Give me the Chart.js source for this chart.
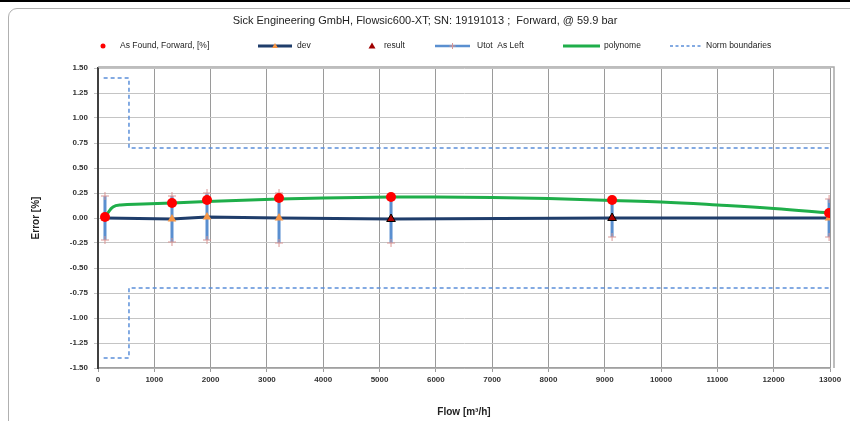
<!DOCTYPE html>
<html>
<head>
<meta charset="utf-8">
<script src="https://cdn.jsdelivr.net/npm/chart.js@4.4.1/dist/chart.umd.min.js"></script>
<style>
  body { margin: 0; background: #fff; }
  #wrap { position: relative; width: 850px; height: 421px; overflow: hidden; }
  #topbar { position: absolute; left: 0; top: 0; width: 850px; height: 2px; background: #000; }
  #frame { position: absolute; left: 8px; top: 8px; width: 860px; height: 440px;
           border: 1.5px solid #b0b0b0; border-radius: 9px; box-sizing: border-box; }
  canvas { position: absolute; left: 0; top: 0; }
</style>
</head>
<body>
<div id="wrap">
  <div id="topbar"></div>
  <div id="frame"></div>
  <canvas id="chart" width="850" height="421"></canvas>
</div>
<script>
// measured flow points
const flows = [124, 1314, 1936, 3215, 5204, 9130, 12984];
const asFound = [0.01, 0.15, 0.18, 0.20, 0.21, 0.18, 0.05];
const dev = [0.00, -0.01, 0.01, 0.00, -0.01, 0.00, 0.00];
const utotUp = [0.22, 0.22, 0.25, 0.25, 0.21, 0.18, 0.19];
const utotLow = [-0.22, -0.24, -0.22, -0.25, -0.25, -0.19, -0.19];

// result markers only at two points
const resultFlows = [5204, 9130];
const resultVals = [-0.01, 0.00];

// polynome curve
const polyFlows = [160, 266, 400, 800, 1314, 1936, 3215, 4000, 5204, 6000, 7000, 8000, 9130, 10000, 11000, 12000, 12984];
const polyVals = [0.04, 0.11, 0.13, 0.14, 0.15, 0.165, 0.19, 0.20, 0.21, 0.21, 0.205, 0.195, 0.175, 0.16, 0.13, 0.095, 0.05];

// norm boundaries
const normFlows = [100, 550, 550, 13000];
const normUpper = [1.40, 1.40, 0.70, 0.70];
const normLower = [-1.40, -1.40, -0.70, -0.70];

const legendLabels = ['As Found, Forward, [%]', 'dev', 'result', 'Utot  As Left', 'polynome', 'Norm boundaries'];
const titleText = 'Sick Engineering GmbH, Flowsic600-XT; SN: 19191013 ;  Forward, @ 59.9 bar';

const toXY = (xs, ys) => xs.map((x, i) => ({ x: x, y: ys[i] }));

// error bars: pairs of points split by a gap
const utotData = [];
flows.forEach((f, i) => {
  utotData.push({ x: f, y: utotUp[i] });
  utotData.push({ x: f, y: utotLow[i] });
  utotData.push({ x: f, y: null });
});

const FONT = 'Liberation Sans, Arial, sans-serif';

const decor = {
  id: 'decor',
  beforeDatasetsDraw(chart) {
    const { ctx, chartArea: a } = chart;
    ctx.save();
    ctx.strokeStyle = '#a8a8a8';
    ctx.lineWidth = 1.5;
    ctx.beginPath();
    ctx.moveTo(a.left, a.top - 1);
    ctx.lineTo(a.right + 4, a.top - 1);
    ctx.lineTo(a.right + 4, a.bottom);
    ctx.stroke();
    ctx.restore();
  },
  afterDraw(chart) {
    const ctx = chart.ctx;
    ctx.save();
    // title
    ctx.fillStyle = '#222';
    ctx.font = '11px ' + FONT;
    ctx.textAlign = 'center';
    ctx.textBaseline = 'middle';
    ctx.fillText(titleText, 425, 21);

    // legend
    const y = 46;
    ctx.font = '8.5px ' + FONT;
    ctx.textAlign = 'left';
    const ds = chart.data.datasets;
    // As Found
    ctx.fillStyle = '#ff0000';
    ctx.beginPath(); ctx.arc(103, y, 2.5, 0, Math.PI * 2); ctx.fill();
    ctx.fillStyle = '#222'; ctx.fillText(legendLabels[0], 120, y);
    // dev
    ctx.strokeStyle = ds[2].borderColor; ctx.lineWidth = 3;
    ctx.beginPath(); ctx.moveTo(258, y); ctx.lineTo(292, y); ctx.stroke();
    ctx.fillStyle = '#f79646';
    ctx.beginPath(); ctx.moveTo(275, y - 3); ctx.lineTo(278, y + 2); ctx.lineTo(272, y + 2); ctx.closePath(); ctx.fill();
    ctx.fillStyle = '#222'; ctx.fillText(legendLabels[1], 297, y);
    // result
    ctx.fillStyle = '#a00000';
    ctx.beginPath(); ctx.moveTo(372, y - 3.5); ctx.lineTo(375.5, y + 2.5); ctx.lineTo(368.5, y + 2.5); ctx.closePath(); ctx.fill();
    ctx.fillStyle = '#222'; ctx.fillText(legendLabels[2], 384, y);
    // Utot
    ctx.strokeStyle = ds[3].borderColor; ctx.lineWidth = 2.5;
    ctx.beginPath(); ctx.moveTo(435, y); ctx.lineTo(470, y); ctx.stroke();
    ctx.strokeStyle = '#d99694'; ctx.lineWidth = 1;
    ctx.beginPath(); ctx.moveTo(452.5, y - 3); ctx.lineTo(452.5, y + 3); ctx.moveTo(449.5, y); ctx.lineTo(455.5, y); ctx.stroke();
    ctx.fillStyle = '#222'; ctx.fillText(legendLabels[3], 477, y);
    // polynome
    ctx.strokeStyle = ds[4].borderColor; ctx.lineWidth = 3;
    ctx.beginPath(); ctx.moveTo(563, y); ctx.lineTo(600, y); ctx.stroke();
    ctx.fillStyle = '#222'; ctx.fillText(legendLabels[4], 604, y);
    // norm
    ctx.strokeStyle = ds[5].borderColor; ctx.lineWidth = 1.5; ctx.setLineDash([3, 2.5]);
    ctx.beginPath(); ctx.moveTo(670, y); ctx.lineTo(703, y); ctx.stroke();
    ctx.setLineDash([]);
    ctx.fillStyle = '#222'; ctx.fillText(legendLabels[5], 706, y);
    ctx.restore();
  }
};

new Chart(document.getElementById('chart'), {
  type: 'scatter',
  data: {
    datasets: [
      {
        label: legendLabels[0],
        data: toXY(flows, asFound),
        showLine: false,
        pointStyle: 'circle',
        pointRadius: 5,
        pointBackgroundColor: '#ff0000',
        pointBorderColor: '#ff0000',
        pointBorderWidth: 0
      },
      {
        label: legendLabels[2],
        data: toXY(resultFlows, resultVals),
        showLine: false,
        pointStyle: 'triangle',
        pointRadius: 5,
        pointBackgroundColor: '#b00000',
        pointBorderColor: '#000',
        pointBorderWidth: 1
      },
      {
        label: legendLabels[1],
        data: toXY(flows, dev),
        showLine: true,
        borderColor: '#1f3d6b',
        borderWidth: 3,
        pointStyle: 'triangle',
        pointRadius: 5,
        pointBackgroundColor: '#f79646',
        pointBorderColor: '#f0a070',
        pointBorderWidth: 0
      },
      {
        label: legendLabels[3],
        data: utotData,
        showLine: true,
        spanGaps: false,
        borderColor: '#5a8fd0',
        borderWidth: 3,
        pointStyle: 'cross',
        pointRadius: 4,
        pointBorderColor: '#d99694',
        pointBorderWidth: 1
      },
      {
        label: legendLabels[4],
        data: toXY(polyFlows, polyVals),
        showLine: true,
        borderColor: '#1fae4a',
        borderWidth: 3,
        tension: 0.4,
        pointRadius: 0
      },
      {
        label: legendLabels[5],
        data: toXY(normFlows, normUpper),
        showLine: true,
        borderColor: '#5b8fd9',
        borderWidth: 1.5,
        borderDash: [4, 3],
        pointRadius: 0
      },
      {
        label: legendLabels[5] + ' low',
        data: toXY(normFlows, normLower),
        showLine: true,
        borderColor: '#5b8fd9',
        borderWidth: 1.5,
        borderDash: [4, 3],
        pointRadius: 0
      }
    ]
  },
  options: {
    responsive: false,
    animation: false,
    layout: { padding: { left: 30, right: 20, top: 68, bottom: 3 } },
    plugins: {
      legend: { display: false },
      title: { display: false },
      tooltip: { enabled: false }
    },
    scales: {
      x: {
        type: 'linear',
        min: 0,
        max: 13000,
        afterFit: (s) => { s.height = 50; },
        ticks: {
          stepSize: 1000,
          autoSkip: false,
          maxRotation: 0,
          color: '#333',
          font: { family: FONT, size: 8, weight: 'bold' },
          padding: 3,
          callback: (v) => String(v)
        },
        grid: { color: '#9a9a9a', lineWidth: 1, tickLength: 4 },
        border: { color: '#a0a0a0', width: 1.5 },
        title: {
          display: true,
          text: 'Flow [m³/h]',
          color: '#222',
          font: { family: FONT, size: 10, weight: 'bold' },
          padding: 0
        }
      },
      y: {
        min: -1.5,
        max: 1.5,
        afterFit: (s) => { s.width = 68; },
        ticks: {
          stepSize: 0.25,
          color: '#333',
          font: { family: FONT, size: 8, weight: 'bold' },
          padding: 6,
          callback: (v) => v.toFixed(2)
        },
        grid: { color: '#c4c4c4', lineWidth: 1, tickLength: 4 },
        border: { color: '#404040', width: 2 },
        title: {
          display: true,
          text: 'Error [%]',
          color: '#222',
          font: { family: FONT, size: 10, weight: 'bold' },
          padding: 0
        }
      }
    }
  },
  plugins: [decor]
});
</script>
</body>
</html>
